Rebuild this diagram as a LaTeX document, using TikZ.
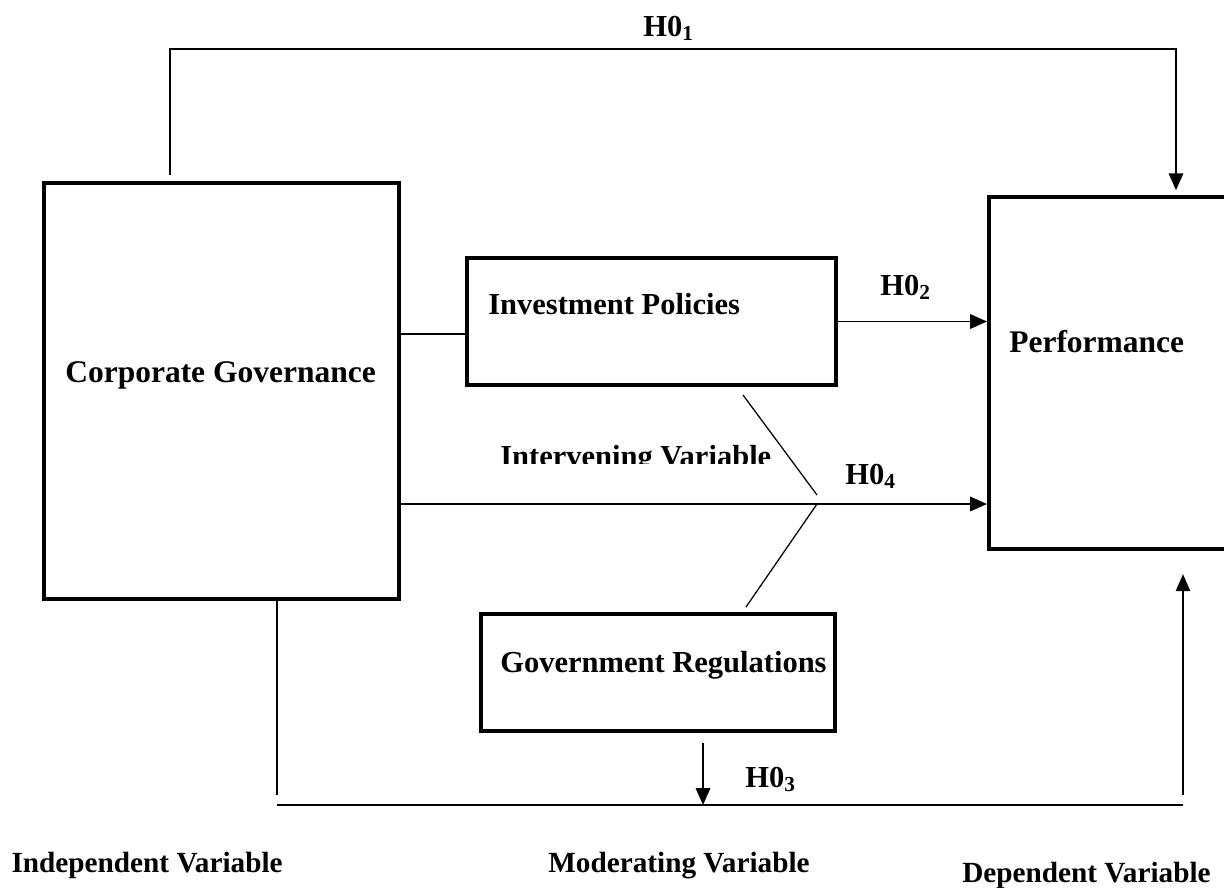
\documentclass[tikz,border=0pt]{standalone}
\usepackage{fontspec}
\setmainfont{Liberation Serif}
\usepackage{tikz}
\usetikzlibrary{arrows.meta,positioning}

\begin{document}
\begin{tikzpicture}[x=0.025cm, y=-0.025cm,
        box/.style={draw, rectangle, line width=2.8pt, inner sep=0pt},
        txt/.style={anchor=base west, inner sep=0pt, font=\fontsize{21.7}{26}\selectfont\bfseries},
        big/.style={txt, font=\fontsize{22.4}{27}\selectfont\bfseries},
        foot/.style={txt, font=\fontsize{20.8}{25}\selectfont\bfseries},
        conn/.style={line width=1.4pt},
        link/.style={line width=0.9pt},
        tip/.tip={Triangle[length=0.42cm, width=0.36cm]}]
        \clip (0,0) rectangle (1224,888);

        \node[box, minimum width=8.875cm, minimum height=10.4cm] (cg) at (221.5,391) {};
        \node[box, minimum width=9.225cm, minimum height=3.175cm] (ip) at (651.5,321.5) {};
        \node[box, minimum width=8.85cm, minimum height=2.925cm] (gr) at (658,672.5) {};
        \node[box, minimum width=6.075cm, minimum height=8.8cm] (perf) at (1110.5,373) {};

        \node[big] (cgt) at (65,382) {Corporate Governance};
        \node[txt] (ipt) at (488,314) {Investment Policies};
        \node[txt] (grt) at (500,672) {Government Regulations};
        \node[big] (perft) at (1009,352) {Performance};
        \begin{scope}
            \clip (470,420) rectangle (800,463);
            \node[txt] (ivt) at (500,466) {Intervening Variable};
        \end{scope}

        \node[txt] (h1t) at (643,36) {H0\textsubscript{1}};
        \node[txt] (h2t) at (880,295) {H0\textsubscript{2}};
        \node[txt] (h3t) at (745,787) {H0\textsubscript{3}};
        \node[txt] (h4t) at (845,484) {H0\textsubscript{4}};

        \node[foot, anchor=base east] (indep) at (283,872) {Independent Variable};
        \node[foot] (moder) at (548,872) {Moderating Variable};
        \node[foot] (dep) at (962,882) {Dependent Variable};

        \coordinate (h1l) at (170,49);
        \coordinate (h1r) at (1176,49);
        \draw[conn, -tip] ([yshift=0.15cm]cg.north -| h1l) |- (h1r) -- ([yshift=0.12cm]perf.north -| h1r);

        \coordinate (ipl) at (465,334);
        \draw[link] (cg.east |- ipl) -- (ipl);
        \draw[conn, -tip] (ip.east) -- (perf.west |- ip.east);

        \coordinate (h4) at (817,504);
        \draw[conn, -tip] (cg.east |- h4) -- (perf.west |- h4);
        \draw[link] (743,395) -- (817,495);
        \draw[link] (h4) -- (746,607);

        \coordinate (h3l) at (277,805);
        \coordinate (h3m) at (703,805);
        \coordinate (h3r) at (1183,805);
        \draw[link] (cg.south -| h3l) -- ([yshift=0.24cm]h3l);
        \draw[link] (h3l) -- (h3r);
        \draw[conn, -tip] ([yshift=-0.25cm]gr.south -| h3m) -- (h3m);
        \draw[link, -tip] ([yshift=0.24cm]h3r) -- ([yshift=-0.58cm]perf.south -| h3r);
\end{tikzpicture}
\end{document}
